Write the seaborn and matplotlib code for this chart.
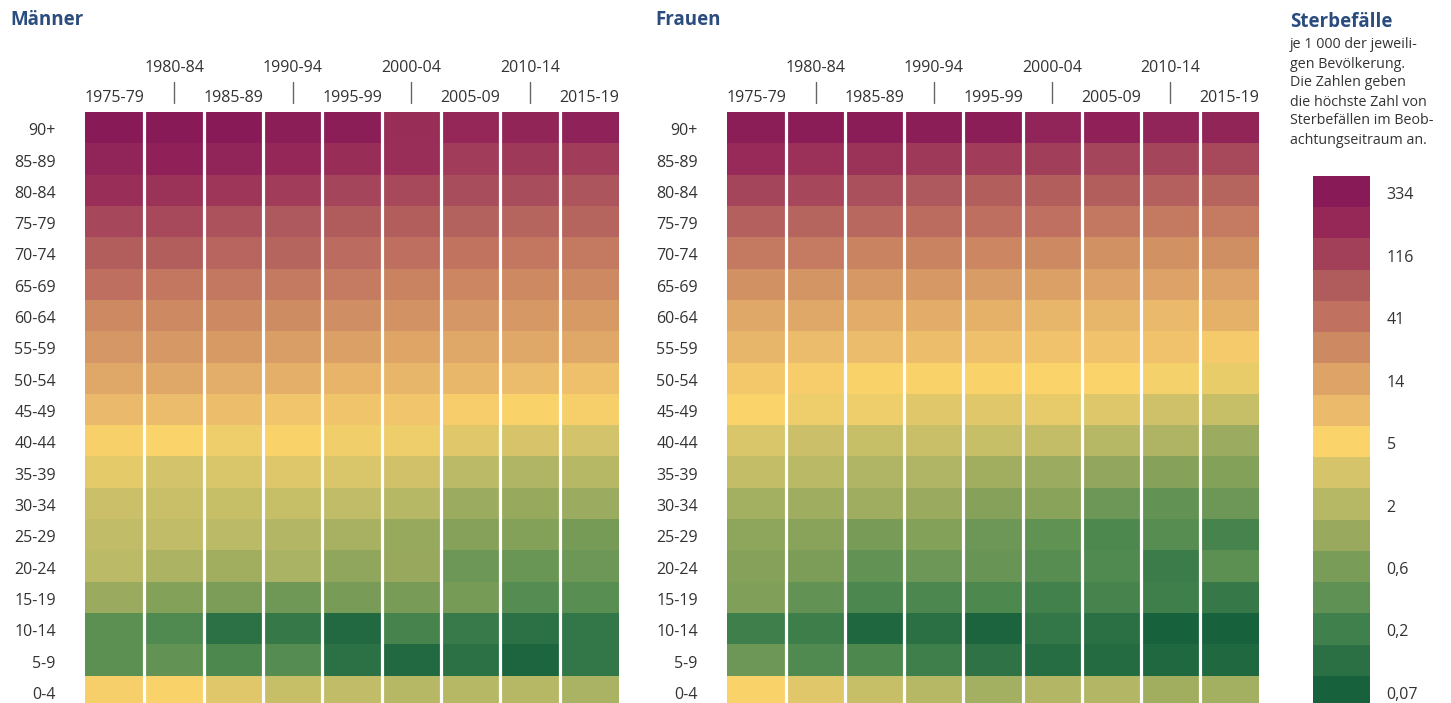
import numpy as np
import pandas as pd
import matplotlib
matplotlib.use("Agg")
import matplotlib.pyplot as plt
import seaborn as sns
from matplotlib.colors import LinearSegmentedColormap, ListedColormap, LogNorm
from matplotlib.transforms import blended_transform_factory

periods = ["1975-79", "1980-84", "1985-89", "1990-94", "1995-99",
           "2000-04", "2005-09", "2010-14", "2015-19"]
ages = ["90+", "85-89", "80-84", "75-79", "70-74", "65-69", "60-64", "55-59",
        "50-54", "45-49", "40-44", "35-39", "30-34", "25-29", "20-24",
        "15-19", "10-14", "5-9", "0-4"]

# Sterbefälle je 1 000 (Männer), rows = ages, cols = periods
men = [
    [317, 317, 334, 285, 285, 177, 207, 219, 243],
    [230, 256, 230, 207, 177, 168, 123, 135, 123],
    [168, 151, 143, 123, 104, 95, 89, 89, 76],
    [99, 95, 81, 72, 68, 65, 58, 55, 55],
    [65, 64, 53, 55, 47, 42, 38, 36, 34],
    [42, 36, 35, 34, 32, 27.5, 25, 24, 23.5],
    [24, 23.5, 23.8, 22.5, 22, 20, 18, 17.3, 16.5],
    [18, 17.3, 17, 15.6, 14.8, 13.3, 12.6, 12.4, 12.5],
    [12.5, 12.6, 10.8, 10.6, 9.6, 9.1, 8.9, 8.2, 7.4],
    [8.6, 8.2, 7.8, 6.7, 6.8, 6.6, 5.6, 4.8, 5.4],
    [5.2, 4.9, 4.0, 5.0, 4.1, 4.0, 3.3, 2.9, 2.7],
    [3.5, 2.7, 3.0, 3.2, 3.0, 2.6, 1.8, 1.5, 1.7],
    [2.4, 2.3, 2.2, 2.25, 2.0, 1.7, 1.05, 0.94, 1.05],
    [2.0, 2.0, 1.8, 1.6, 1.3, 0.94, 0.72, 0.69, 0.55],
    [1.8, 1.4, 1.16, 1.35, 0.84, 0.98, 0.45, 0.44, 0.45],
    [0.99, 0.69, 0.62, 0.48, 0.58, 0.58, 0.55, 0.30, 0.32],
    [0.34, 0.28, 0.126, 0.155, 0.096, 0.23, 0.17, 0.126, 0.148],
    [0.34, 0.38, 0.26, 0.30, 0.126, 0.096, 0.126, 0.082, 0.148],
    [5.4, 5.1, 3.3, 2.2, 2.0, 1.7, 1.68, 1.7, 1.37],
]

# Sterbefälle je 1 000 (Frauen)
women = [
    [285, 300, 300, 285, 285, 230, 256, 230, 219],
    [187, 160, 151, 135, 123, 116, 104, 104, 95],
    [104, 99, 85, 72, 65, 65, 65, 61, 55],
    [61, 55, 49.5, 44.6, 42, 40.3, 35, 34, 32],
    [34, 32, 27.5, 27.5, 25, 23.7, 20.2, 20.2, 21.3],
    [20.2, 18.2, 17.3, 17.3, 16.4, 14.8, 14, 14, 14],
    [12.6, 12.6, 11.4, 11.4, 10.1, 9.1, 9.1, 8.6, 10.1],
    [9.1, 8.2, 8.2, 7.8, 7.4, 7.0, 7.0, 7.0, 5.9],
    [6.3, 5.6, 5.1, 5.1, 5.1, 4.85, 4.85, 4.5, 3.8],
    [4.85, 4.0, 4.0, 3.3, 3.3, 3.7, 3.2, 2.56, 2.2],
    [3.0, 2.4, 2.2, 2.3, 2.2, 2.08, 1.68, 1.43, 1.05],
    [2.08, 1.78, 1.5, 1.5, 1.16, 1.05, 0.89, 0.72, 0.69],
    [1.22, 1.1, 1.1, 0.99, 0.72, 0.76, 0.45, 0.38, 0.45],
    [0.81, 0.76, 0.58, 0.69, 0.45, 0.36, 0.26, 0.31, 0.23],
    [0.72, 0.62, 0.38, 0.45, 0.43, 0.31, 0.28, 0.18, 0.34],
    [0.65, 0.38, 0.25, 0.25, 0.26, 0.21, 0.23, 0.20, 0.16],
    [0.20, 0.19, 0.087, 0.119, 0.078, 0.148, 0.119, 0.07, 0.07],
    [0.45, 0.28, 0.26, 0.20, 0.13, 0.108, 0.103, 0.091, 0.091],
    [5.1, 3.3, 2.2, 1.68, 1.22, 1.6, 1.6, 1.16, 1.22],
]

# legend classes, top (high) to bottom (low)
legend_colors = ["#871a57", "#962858", "#a2405a", "#b05c5d", "#c07160",
                 "#cd8a62", "#dda367", "#ebbb6b", "#fad46a", "#d6c46a",
                 "#b6b866", "#99aa5e", "#799c58", "#5e9153", "#40804c",
                 "#2b7044", "#17613c"]
legend_labels = ["334", "", "116", "", "41", "", "14", "", "5", "", "2", "",
                 "0,6", "", "0,2", "", "0,07"]
legend_text = ["je 1 000 der jeweili-", "gen Bevölkerung.", "Die Zahlen geben",
               "die höchste Zahl von", "Sterbefällen im Beob-",
               "achtungseitraum an."]

sns.set_theme(style="white")
plt.rcParams["font.family"] = ["Open Sans", "DejaVu Sans"]

title_color = "#2b4c7e"
text_color = "#333333"
fs = 11.5

cmap = LinearSegmentedColormap.from_list("sterbe", legend_colors[::-1])
norm = LogNorm(vmin=0.07, vmax=334)

W, H = 1451, 703
fig = plt.figure(figsize=(W / 100, H / 100), dpi=100)


def box(x0, y0, x1, y1):
    return [x0 / W, 1 - y1 / H, (x1 - x0) / W, (y1 - y0) / H]


panels = [("Männer", men, 85, 619, 10), ("Frauen", women, 727, 1259, 655)]
for title, vals, x0, x1, tx in panels:
    ax = fig.add_axes(box(x0, 112, x1, 707))
    df = pd.DataFrame(vals, index=ages, columns=periods)
    sns.heatmap(df, ax=ax, cmap=cmap, norm=norm, cbar=False,
                xticklabels=False, yticklabels=False)
    for i in range(1, len(periods)):
        ax.axvline(i, color="white", lw=2.3)
    # labels sit a touch below the row centre, as in the original
    ax.set_yticks(np.arange(len(ages)) + 0.55)
    ax.set_yticklabels(ages, rotation=0)
    ax.tick_params(axis="y", left=True, length=0, pad=21, labelsize=fs,
                   labelcolor=text_color)
    ax.set_xlabel("")
    ax.set_ylabel("")
    trans = blended_transform_factory(ax.transData, fig.transFigure)
    for j, p in enumerate(periods):
        if j % 2 == 0:
            ax.text(j + 0.5, 1 - 98 / H, p, transform=trans, ha="center",
                    va="center", fontsize=fs, color=text_color)
        else:
            ax.text(j + 0.5, 1 - 68 / H, p, transform=trans, ha="center",
                    va="center", fontsize=fs, color=text_color)
            ax.plot([j + 0.5, j + 0.5], [1 - 82 / H, 1 - 103 / H],
                    transform=trans, color="#666666", lw=1, clip_on=False)
    fig.text(tx / W, 1 - 20 / H, title, ha="left", va="center",
             fontsize=13.5, fontweight="bold", color=title_color)

# legend
lax = fig.add_axes(box(1313, 176, 1370, 707))
sns.heatmap(np.arange(len(legend_colors)).reshape(-1, 1), ax=lax,
            cmap=ListedColormap(legend_colors), cbar=False,
            xticklabels=False, yticklabels=False)
lax.set_yticks(np.arange(len(legend_labels)) + 0.55)
lax.set_yticklabels(legend_labels, rotation=0)
lax.yaxis.tick_right()
lax.tick_params(axis="y", length=0, pad=12, labelsize=fs,
                labelcolor=text_color)

fig.text(1290 / W, 1 - 22 / H, "Sterbefälle", ha="left", va="center",
         fontsize=13.5, fontweight="bold", color=title_color)
for k, line in enumerate(legend_text):
    fig.text(1290 / W, 1 - (45 + 19 * k) / H, line, ha="left", va="center",
             fontsize=10.3, color=text_color)

fig.savefig("out.png", dpi=100)
